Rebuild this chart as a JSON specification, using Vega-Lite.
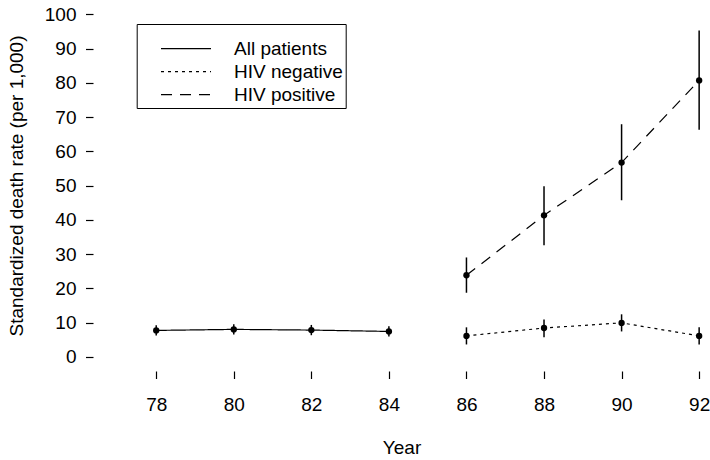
{
  "$schema": "https://vega.github.io/schema/vega-lite/v6.json",
  "autosize": "none",
  "width": 617,
  "height": 371,
  "padding": {"left": 93, "top": 0, "right": 0, "bottom": 89},
  "background": "white",
  "config": {
    "view": {"stroke": null},
    "font": "Liberation Sans",
    "axis": {
      "labelFont": "Liberation Sans",
      "titleFont": "Liberation Sans",
      "labelFontSize": 19,
      "titleFontSize": 19,
      "labelColor": "black",
      "titleColor": "black",
      "titleFontWeight": "normal",
      "tickColor": "black",
      "tickWidth": 1.2,
      "tickSize": 7.5,
      "grid": false,
      "domain": false
    }
  },
  "data": {
    "values": [
      {"year": 78, "group": "All patients", "rate": 7.7, "lo": 6.2, "hi": 9.2},
      {"year": 80, "group": "All patients", "rate": 8.0, "lo": 6.5, "hi": 9.5},
      {"year": 82, "group": "All patients", "rate": 7.8, "lo": 6.3, "hi": 9.3},
      {"year": 84, "group": "All patients", "rate": 7.4, "lo": 5.9, "hi": 8.9},
      {"year": 86, "group": "HIV negative", "rate": 6.1, "lo": 3.6, "hi": 8.6},
      {"year": 88, "group": "HIV negative", "rate": 8.4, "lo": 5.7, "hi": 10.9},
      {"year": 90, "group": "HIV negative", "rate": 9.9, "lo": 7.4, "hi": 12.4},
      {"year": 92, "group": "HIV negative", "rate": 6.1, "lo": 3.6, "hi": 8.6},
      {"year": 86, "group": "HIV positive", "rate": 23.8, "lo": 18.7, "hi": 29.0},
      {"year": 88, "group": "HIV positive", "rate": 41.3, "lo": 32.6, "hi": 49.8},
      {"year": 90, "group": "HIV positive", "rate": 56.7, "lo": 45.7, "hi": 67.9},
      {"year": 92, "group": "HIV positive", "rate": 80.7, "lo": 66.3, "hi": 95.3}
    ]
  },
  "encoding": {
    "x": {
      "field": "year",
      "type": "quantitative",
      "scale": {"domain": [76.37, 92.28], "nice": false, "zero": false},
      "axis": {"title": "Year", "values": [78, 80, 82, 84, 86, 88, 90, 92], "labelPadding": 17, "titlePadding": 24}
    },
    "y": {
      "field": "rate",
      "type": "quantitative",
      "scale": {"domain": [-4.15, 104.17], "nice": false, "zero": false},
      "axis": {"title": "Standardized death rate (per 1,000)", "values": [0, 10, 20, 30, 40, 50, 60, 70, 80, 90, 100], "labelPadding": 9.5, "titlePadding": 18}
    }
  },
  "layer": [
    {
      "mark": {"type": "line", "color": "black", "strokeWidth": 1.2},
      "encoding": {
        "strokeDash": {
          "field": "group",
          "type": "nominal",
          "scale": {"domain": ["All patients", "HIV negative", "HIV positive"], "range": [[1, 0], [3, 4], [11, 8]]},
          "legend": {
            "orient": "none",
            "legendX": 43.7,
            "legendY": 24,
            "title": " ",
            "titleFontSize": 6,
            "titlePadding": 5,
            "padding": 2.7,
            "strokeColor": "black",
            "symbolType": "M-2.5,0H2.5",
            "symbolSize": 400,
            "symbolStrokeWidth": 1.2,
            "symbolStrokeColor": "black",
            "labelFont": "Liberation Sans",
            "labelFontSize": 19,
            "labelColor": "black",
            "rowPadding": 2,
            "labelOffset": 37,
            "symbolOffset": 35.6,
            "labelExpr": "datum.label + '\u2003\u2003\u2003'"
          }
        }
      }
    },
    {
      "mark": {"type": "rule", "color": "black", "strokeWidth": 1.5},
      "encoding": {
        "y": {"field": "lo", "type": "quantitative"},
        "y2": {"field": "hi"}
      }
    },
    {
      "mark": {"type": "point", "filled": true, "color": "black", "opacity": 1, "size": 40},
      "encoding": {}
    },
    {
      "data": {"values": [{}]},
      "mark": {"type": "rule", "color": "black", "strokeWidth": 1.2},
      "encoding": {
        "x": {"datum": 78, "type": "quantitative"},
        "x2": {"datum": 92},
        "y": {"datum": -4.15, "type": "quantitative"}
      }
    },
    {
      "data": {"values": [{}]},
      "mark": {"type": "rule", "color": "black", "strokeWidth": 1.2},
      "encoding": {
        "x": {"datum": 76.37, "type": "quantitative"},
        "y": {"datum": 0, "type": "quantitative"},
        "y2": {"datum": 100}
      }
    }
  ]
}
